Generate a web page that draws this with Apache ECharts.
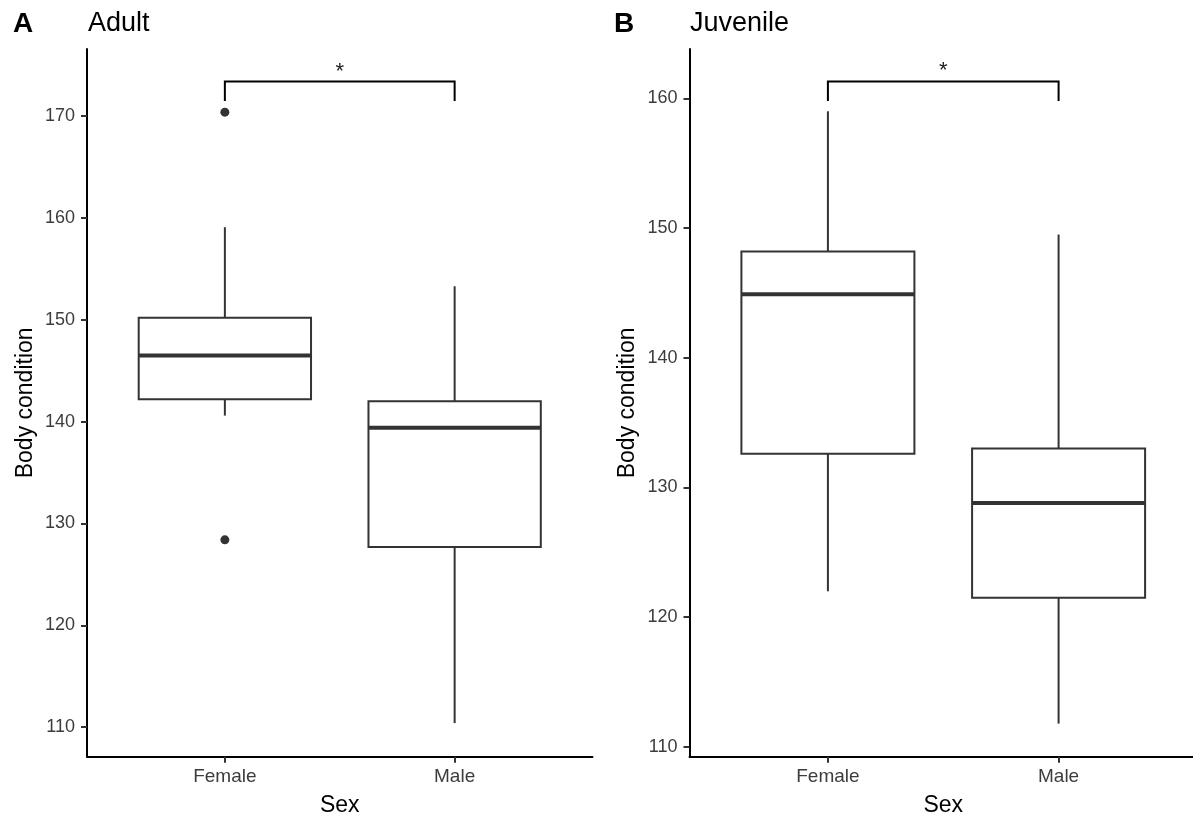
<!DOCTYPE html>
<html>
<head>
<meta charset="utf-8">
<script src="https://cdn.jsdelivr.net/npm/echarts@6/dist/echarts.min.js"></script>
<style>
  html, body { margin: 0; padding: 0; background: #ffffff; }
  #chart { width: 1193px; height: 819px; }
</style>
</head>
<body>
<div id="chart"></div>
<script>
// Body condition by sex, adults and juveniles
const sexes = ['Female', 'Male'];

// box statistics: [lower whisker, Q1, median, Q3, upper whisker]
const adultFemale = [140.6, 142.2, 146.5, 150.2, 159.1];
const adultMale = [110.4, 127.7, 139.4, 142.0, 153.3];
const juvenileFemale = [122.0, 132.6, 144.9, 148.2, 159.0];
const juvenileMale = [111.8, 121.5, 128.8, 133.0, 149.5];

// points beyond the whiskers: [sex index (1-based), value]
const adultOutliers = [[1, 170.4], [1, 128.4]];

// significance bracket: [leg end, bar level]
const adultBracket = [171.5, 173.4];
const juvenileBracket = [159.8, 161.3];

const adultTicks = [110, 120, 130, 140, 150, 160, 170];
const juvenileTicks = [110, 120, 130, 140, 150, 160];

const FONT = "'Liberation Sans', Arial, sans-serif";
const INK = '#333333';
const LABEL = '#3C3C3C';

function boxRows(female, male) {
  return [[1].concat(female), [2].concat(male)];
}

function renderBox(params, api) {
  const x = api.value(0);
  const lo = api.coord([x, api.value(1)]);
  const q1 = api.coord([x, api.value(2)]);
  const md = api.coord([x, api.value(3)]);
  const q3 = api.coord([x, api.value(4)]);
  const hi = api.coord([x, api.value(5)]);
  const half = api.size([0.75, 0])[0] / 2;
  const cx = lo[0];
  const thin = { stroke: INK, lineWidth: 2 };
  return {
    type: 'group',
    children: [
      { type: 'line', shape: { x1: cx, y1: q3[1], x2: cx, y2: hi[1] }, style: thin },
      { type: 'line', shape: { x1: cx, y1: q1[1], x2: cx, y2: lo[1] }, style: thin },
      { type: 'rect', shape: { x: cx - half, y: q3[1], width: 2 * half, height: q1[1] - q3[1] },
        style: { stroke: INK, lineWidth: 2, fill: '#ffffff' } },
      { type: 'line', shape: { x1: cx - half, y1: md[1], x2: cx + half, y2: md[1] },
        style: { stroke: INK, lineWidth: 4 } }
    ]
  };
}

function renderBracket(params, api) {
  const a = api.coord([api.value(0), api.value(2)]);
  const b = api.coord([api.value(0), api.value(3)]);
  const c = api.coord([api.value(1), api.value(3)]);
  const d = api.coord([api.value(1), api.value(2)]);
  return {
    type: 'group',
    children: [
      { type: 'polyline', shape: { points: [a, b, c, d] },
        style: { stroke: '#000000', lineWidth: 2, fill: null } },
      { type: 'text', style: { text: '*', x: (b[0] + c[0]) / 2, y: b[1] - 10,
        align: 'center', verticalAlign: 'middle', fill: '#222222', font: '22px ' + FONT } }
    ]
  };
}

function xAxisFor(gridIndex) {
  return {
    gridIndex: gridIndex,
    type: 'value',
    min: 0.4,
    max: 2.6,
    name: 'Sex',
    nameLocation: 'middle',
    nameGap: 37,
    nameTextStyle: { fontFamily: FONT, fontSize: 23, color: '#000000' },
    axisLine: { show: true, onZero: false, lineStyle: { color: '#000000', width: 2 } },
    axisTick: { show: true, customValues: [1, 2], length: 6, lineStyle: { color: INK, width: 2 } },
    axisLabel: { customValues: [1, 2], formatter: v => sexes[Math.round(v) - 1],
      color: LABEL, fontFamily: FONT, fontSize: 19, margin: 11 },
    splitLine: { show: false }
  };
}

function yAxisFor(gridIndex, lo, hi, ticks) {
  return {
    gridIndex: gridIndex,
    type: 'value',
    min: lo,
    max: hi,
    name: 'Body condition',
    nameLocation: 'middle',
    nameGap: 50,
    nameTextStyle: { fontFamily: FONT, fontSize: 23, color: '#000000' },
    axisLine: { show: true, onZero: false, lineStyle: { color: '#000000', width: 2 } },
    axisTick: { show: true, customValues: ticks, length: 6, lineStyle: { color: INK, width: 2 } },
    axisLabel: { customValues: ticks, color: LABEL, fontFamily: FONT, fontSize: 18, margin: 12 },
    splitLine: { show: false }
  };
}

const chart = echarts.init(document.getElementById('chart'), null, { renderer: 'canvas' });

chart.setOption({
  animation: false,
  backgroundColor: '#ffffff',
  grid: [
    { left: 87, top: 49, width: 505.5, height: 707.7, containLabel: false, outerBoundsMode: 'none' },
    { left: 689.5, top: 49, width: 507.5, height: 707.7, containLabel: false, outerBoundsMode: 'none' }
  ],
  graphic: [
    { type: 'text', left: 13, top: 10, style: { text: 'A', font: 'bold 28px ' + FONT, fill: '#000000' } },
    { type: 'text', left: 88, top: 10, style: { text: 'Adult', font: '27px ' + FONT, fill: '#000000' } },
    { type: 'text', left: 614, top: 10, style: { text: 'B', font: 'bold 28px ' + FONT, fill: '#000000' } },
    { type: 'text', left: 690, top: 10, style: { text: 'Juvenile', font: '27px ' + FONT, fill: '#000000' } }
  ],
  xAxis: [xAxisFor(0), xAxisFor(1)],
  yAxis: [
    yAxisFor(0, 107.1, 176.6, adultTicks),
    yAxisFor(1, 109.25, 163.8, juvenileTicks)
  ],
  series: [
    {
      type: 'custom', xAxisIndex: 0, yAxisIndex: 0,
      renderItem: renderBox,
      encode: { x: 0, y: [1, 2, 3, 4, 5] },
      data: boxRows(adultFemale, adultMale)
    },
    {
      type: 'scatter', xAxisIndex: 0, yAxisIndex: 0,
      symbolSize: 9,
      itemStyle: { color: INK, opacity: 1 },
      data: adultOutliers
    },
    {
      type: 'custom', xAxisIndex: 0, yAxisIndex: 0,
      renderItem: renderBracket,
      encode: { x: [0, 1], y: [2, 3] },
      data: [[1, 2, adultBracket[0], adultBracket[1]]]
    },
    {
      type: 'custom', xAxisIndex: 1, yAxisIndex: 1,
      renderItem: renderBox,
      encode: { x: 0, y: [1, 2, 3, 4, 5] },
      data: boxRows(juvenileFemale, juvenileMale)
    },
    {
      type: 'custom', xAxisIndex: 1, yAxisIndex: 1,
      renderItem: renderBracket,
      encode: { x: [0, 1], y: [2, 3] },
      data: [[1, 2, juvenileBracket[0], juvenileBracket[1]]]
    }
  ]
});
</script>
</body>
</html>
